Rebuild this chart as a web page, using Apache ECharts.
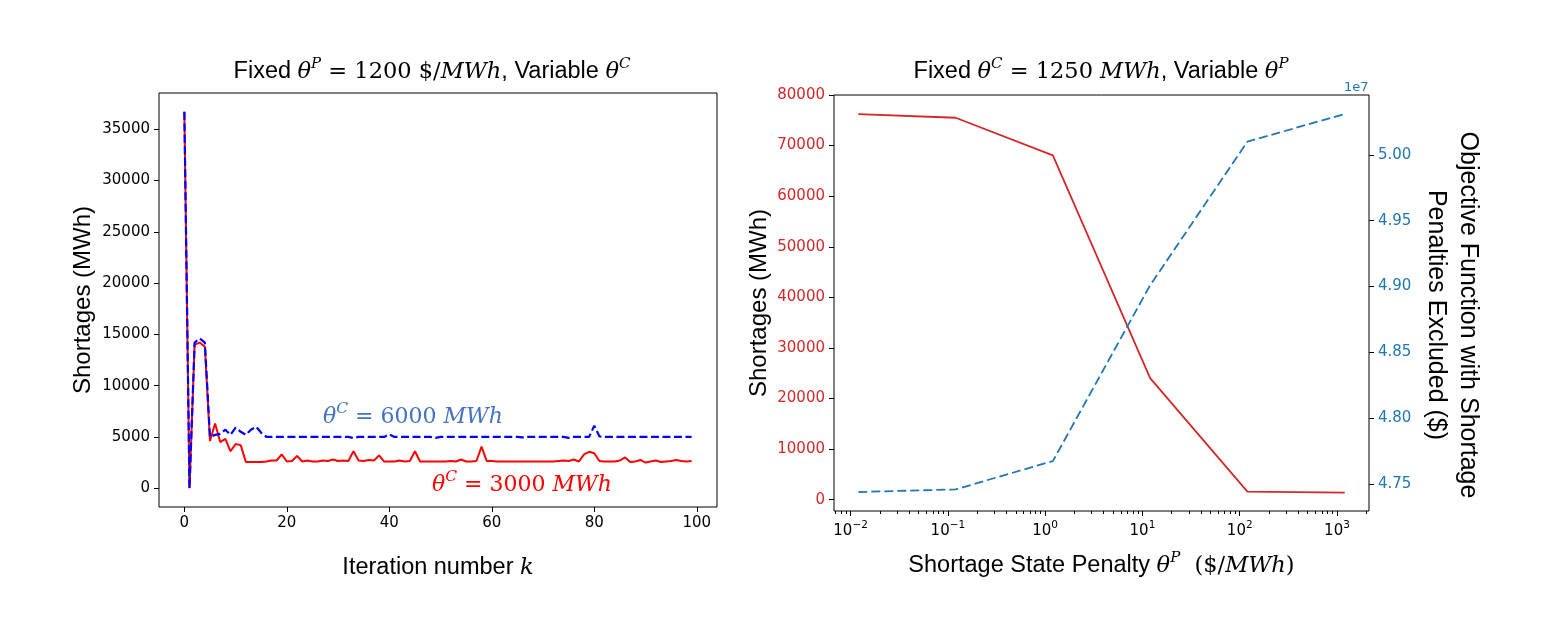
<!DOCTYPE html>
<html>
<head>
<meta charset="utf-8">
<script src="https://cdn.jsdelivr.net/npm/echarts@6/dist/echarts.min.js"></script>
<style>
html, body { margin: 0; background: #fff; }
#main { width: 1566px; height: 629px; }
</style>
</head>
<body>
<div id="main"></div>
<script>
// left panel: shortages per iteration k
var shortage3000 = [
    36700, 0, 14000, 14200, 13800, 4600, 6300, 4500, 4800, 3600,
    4300, 4200, 2550, 2550, 2550, 2550, 2600, 2700, 2700, 3300,
    2600, 2650, 3150, 2600, 2700, 2600, 2600, 2700, 2650, 2800,
    2650, 2700, 2650, 3600, 2700, 2650, 2750, 2700, 3200, 2600,
    2600, 2600, 2700, 2600, 2650, 3600, 2600, 2600, 2600, 2600,
    2600, 2600, 2650, 2600, 2800, 2600, 2600, 2650, 4050, 2650,
    2650, 2600, 2600, 2600, 2600, 2600, 2600, 2600, 2600, 2600,
    2600, 2600, 2600, 2650, 2700, 2650, 2800, 2600, 3300, 3550,
    3400, 2650, 2600, 2600, 2600, 2700, 3000, 2550, 2600, 2750,
    2500, 2600, 2700, 2550, 2600, 2650, 2750, 2650, 2600, 2650
];
var shortage6000 = [
    36700, 0, 14200, 14600, 14200, 5000, 5200, 5300, 5700, 5200,
    5900, 5500, 5200, 5700, 6000, 5400, 5000, 5000, 5000, 5000,
    5000, 5000, 5000, 5000, 5000, 5000, 5000, 5000, 5000, 5000,
    5000, 5000, 5000, 4900, 5000, 5000, 5000, 5000, 5000, 5000,
    5250, 5000, 5000, 5000, 5000, 5000, 5000, 5000, 5000, 4900,
    5000, 5000, 5000, 5000, 5000, 5000, 5000, 5000, 5000, 5000,
    5000, 5000, 5000, 5000, 5000, 5000, 4950, 5000, 5000, 5000,
    5000, 5000, 5000, 5000, 5000, 4900, 5000, 5000, 5000, 5000,
    6100, 5050, 5000, 5000, 5000, 5000, 5000, 5000, 5000, 5000,
    5000, 5000, 5000, 5000, 5000, 5000, 5000, 5000, 5000, 5000
];

// right panel: penalty sweep
var penalty = [0.012, 0.12, 1.2, 12, 120, 1200];
var shortageP = [76200, 75500, 68050, 24020, 1580, 1400];
var objective = [47440000, 47460000, 47675000, 49010000, 50100000, 50310000];

// ticks
var iterTicks = [0, 20, 40, 60, 80, 100];
var leftShortTicks = [0, 5000, 10000, 15000, 20000, 25000, 30000, 35000];
var rightShortTicks = [0, 10000, 20000, 30000, 40000, 50000, 60000, 70000, 80000];
var objTicks = [47500000, 48000000, 48500000, 49000000, 49500000, 50000000];
var logTicks = [0.01, 0.1, 1, 10, 100, 1000];
var logMinor = [];
[0.001, 0.01, 0.1, 1, 10, 100, 1000].forEach(function (d) {
    [2, 3, 4, 5, 6, 7, 8, 9].forEach(function (m) {
        var v = +(d * m).toPrecision(3);
        if (v > 0.00675 && v < 2133) logMinor.push(v);
    });
});

var chart = echarts.init(document.getElementById('main'));

var tickFont = { fontFamily: 'DejaVu Sans', fontSize: 15, color: '#000' };
var nameFont = { fontFamily: 'Liberation Sans', fontSize: 24, color: '#000', fontWeight: 'normal' };
var mathRich = {
    t: { fontFamily: 'Liberation Sans', fontSize: 23.5, color: '#000', fontWeight: 'normal', lineHeight: 30 },
    m: { fontFamily: 'DejaVu Serif', fontStyle: 'italic', fontSize: 22.5, color: '#000', fontWeight: 'normal', lineHeight: 30 },
    r: { fontFamily: 'DejaVu Serif', fontSize: 22.5, color: '#000', fontWeight: 'normal', lineHeight: 30 },
    s: { fontFamily: 'DejaVu Serif', fontStyle: 'italic', fontSize: 15, color: '#000', fontWeight: 'normal', lineHeight: 30, verticalAlign: 'top' }
};

function pairs(xs, ys) {
    return ys.map(function (v, i) { return [xs ? xs[i] : i, v]; });
}

function plain(v) { return String(v); }

function annoRich(color) {
    return {
        m: { fontFamily: 'DejaVu Serif', fontStyle: 'italic', fontSize: 22, fill: color, color: color, lineHeight: 32 },
        r: { fontFamily: 'DejaVu Serif', fontSize: 22, fill: color, color: color, lineHeight: 32 },
        s: { fontFamily: 'DejaVu Serif', fontStyle: 'italic', fontSize: 15.5, fill: color, color: color, lineHeight: 32, verticalAlign: 'top' }
    };
}

option = {
    animation: false,
    backgroundColor: '#fff',
    title: [
        {
            text: '{t|Fixed }{m|θ}{s|P}{r| = 1200 $/}{m|MWh}{t|, Variable }{m|θ}{s|C}',
            left: 432, top: 57, textAlign: 'center', padding: 0,
            textStyle: { fontWeight: 'normal', rich: mathRich }
        },
        {
            text: '{t|Fixed }{m|θ}{s|C}{r| = 1250 }{m|MWh}{t|, Variable }{m|θ}{s|P}',
            left: 1101, top: 57, textAlign: 'center', padding: 0,
            textStyle: { fontWeight: 'normal', rich: mathRich }
        }
    ],
    grid: [
        { left: 159, top: 93, width: 558, height: 414, show: true, borderColor: '#000', borderWidth: 1 },
        { left: 834, top: 95, width: 535, height: 416, show: true, borderColor: '#000', borderWidth: 1 }
    ],
    xAxis: [
        {
            gridIndex: 0, type: 'value', min: -4.95, max: 103.95,
            axisLine: { show: false, onZero: false },
            axisTick: { customValues: iterTicks, length: 5, lineStyle: { color: '#000' } },
            axisLabel: Object.assign({ customValues: iterTicks, margin: 9, formatter: plain }, tickFont),
            splitLine: { show: false },
            name: '{t|Iteration number }{m|k}', nameLocation: 'middle', nameGap: 46,
            nameTextStyle: { rich: mathRich }
        },
        {
            gridIndex: 1, type: 'log', min: 0.00675, max: 2133,
            axisLine: { show: false, onZero: false },
            axisTick: { customValues: logTicks, length: 5, lineStyle: { color: '#000' } },
            axisLabel: {
                customValues: logTicks, margin: 9,
                formatter: function (v) {
                    var e = Math.round(Math.log10(v));
                    return '{b|10}{e|' + (e < 0 ? '\u2212' + (-e) : e) + '}';
                },
                rich: {
                    b: { fontFamily: 'DejaVu Sans', fontSize: 15, color: '#000', lineHeight: 22 },
                    e: { fontFamily: 'DejaVu Sans', fontSize: 10.5, color: '#000', lineHeight: 22, verticalAlign: 'top' }
                }
            },
            splitLine: { show: false },
            name: '{t|Shortage State Penalty }{m|θ}{s|P}{r|  ($/}{m|MWh}{r|)}', nameLocation: 'middle', nameGap: 40,
            nameTextStyle: { rich: mathRich }
        },
        {
            gridIndex: 1, type: 'log', min: 0.00675, max: 2133, position: 'bottom', offset: 0,
            axisLine: { show: false, onZero: false },
            axisTick: { customValues: logMinor, length: 3, lineStyle: { color: '#000' } },
            axisLabel: { show: false },
            splitLine: { show: false }
        }
    ],
    yAxis: [
        {
            gridIndex: 0, type: 'value', min: -1835, max: 38535,
            axisLine: { show: false, onZero: false },
            axisTick: { customValues: leftShortTicks, length: 5, lineStyle: { color: '#000' } },
            axisLabel: Object.assign({ customValues: leftShortTicks, margin: 9, formatter: plain }, tickFont),
            splitLine: { show: false },
            name: 'Shortages (MWh)', nameLocation: 'middle', nameGap: 64,
            nameTextStyle: nameFont
        },
        {
            gridIndex: 1, type: 'value', min: -2235, max: 80000,
            axisLine: { show: false, onZero: false },
            axisTick: { customValues: rightShortTicks, length: 5, lineStyle: { color: '#000' } },
            axisLabel: Object.assign({ customValues: rightShortTicks, margin: 9, formatter: plain }, tickFont, { color: '#d62728' }),
            splitLine: { show: false },
            name: 'Shortages (MWh)', nameLocation: 'middle', nameGap: 63,
            nameTextStyle: nameFont
        },
        {
            gridIndex: 1, type: 'value', position: 'right', min: 47296000, max: 50454000,
            axisLine: { show: false, onZero: false },
            axisTick: { customValues: objTicks, length: 5, lineStyle: { color: '#000' } },
            axisLabel: Object.assign({
                customValues: objTicks, margin: 9,
                formatter: function (v) { return (v / 1e7).toFixed(2); }
            }, tickFont, { color: '#1f77b4' }),
            splitLine: { show: false },
            name: 'Objective Function with Shortage\nPenalties Excluded ($)',
            nameLocation: 'middle', nameRotate: -90, nameGap: 51,
            nameTextStyle: Object.assign({}, nameFont, { fontSize: 25, lineHeight: 32, align: 'center', padding: [0, 0, 0, 24] })
        }
    ],
    graphic: [
        {
            type: 'text', left: 1370 - 26, top: 81,
            style: { text: '1e7', font: '13px "DejaVu Sans"', fill: '#1f77b4' }
        },
        {
            type: 'text', left: 323, top: 401,
            style: {
                text: '{m|θ}{s|C}{r| = 6000 }{m|MWh}',
                rich: annoRich('#4472c4')
            }
        },
        {
            type: 'text', left: 432, top: 469,
            style: {
                text: '{m|θ}{s|C}{r| = 3000 }{m|MWh}',
                rich: annoRich('#ff0000')
            }
        }
    ],
    series: [
        {
            type: 'line', xAxisIndex: 0, yAxisIndex: 0,
            data: pairs(null, shortage3000),
            showSymbol: false, symbol: 'none',
            lineStyle: { color: '#ff0000', width: 2 }, z: 2
        },
        {
            type: 'line', xAxisIndex: 0, yAxisIndex: 0,
            data: pairs(null, shortage6000),
            showSymbol: false, symbol: 'none',
            lineStyle: { color: '#0000ff', width: 2.2, type: [8, 3.5] }, z: 3
        },
        {
            type: 'line', xAxisIndex: 1, yAxisIndex: 1,
            data: pairs(penalty, shortageP),
            showSymbol: false, symbol: 'none',
            lineStyle: { color: '#d62728', width: 1.8 }
        },
        {
            type: 'line', xAxisIndex: 1, yAxisIndex: 2,
            data: pairs(penalty, objective),
            showSymbol: false, symbol: 'none',
            lineStyle: { color: '#1f77b4', width: 1.8, type: [9, 4] }
        }
    ]
};
chart.setOption(option);
</script>
</body>
</html>
